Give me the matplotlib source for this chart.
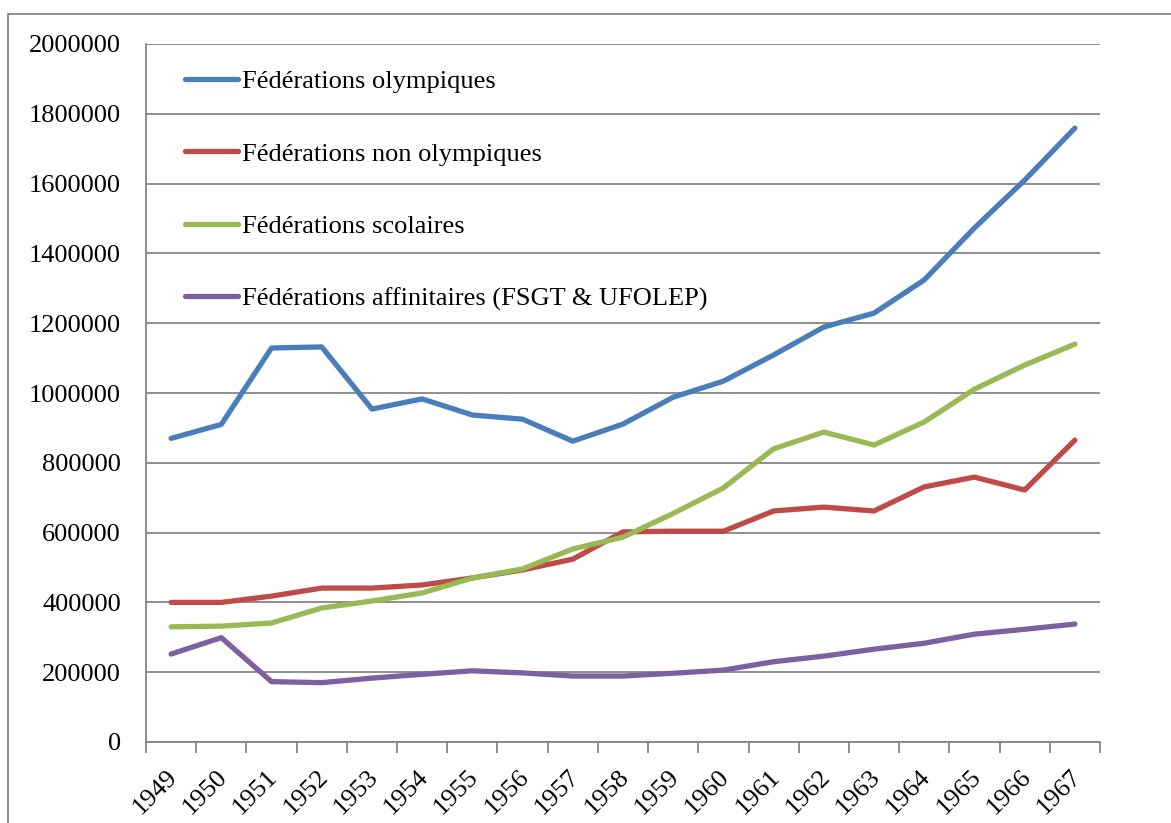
import matplotlib
matplotlib.use("Agg")
import matplotlib.pyplot as plt
from matplotlib.patches import Rectangle
import matplotlib.transforms as mtransforms
import numpy as np

years = ["1949", "1950", "1951", "1952", "1953", "1954", "1955", "1956", "1957", "1958",
         "1959", "1960", "1961", "1962", "1963", "1964", "1965", "1966", "1967"]

olympiques = [870000, 910000, 1129000, 1132000, 954000, 983000, 937000, 925000, 862000, 911000,
              988000, 1034000, 1109000, 1189000, 1229000, 1324000, 1473000, 1610000, 1759000]
non_olympiques = [400000, 400000, 418000, 441000, 441000, 450000, 470000, 493000, 524000, 602000,
                  604000, 604000, 662000, 673000, 662000, 731000, 759000, 722000, 865000]
scolaires = [330000, 332000, 341000, 384000, 404000, 427000, 470000, 496000, 553000, 587000,
             655000, 728000, 840000, 888000, 851000, 917000, 1011000, 1080000, 1140000]
affinitaires = [252000, 299000, 173000, 170000, 183000, 194000, 204000, 198000, 189000, 189000,
                197000, 206000, 230000, 246000, 266000, 283000, 309000, 323000, 338000]

labels = ["Fédérations olympiques", "Fédérations non olympiques",
          "Fédérations scolaires", "Fédérations affinitaires (FSGT & UFOLEP)"]
colors = ["#4A7EBB", "#BE4B48", "#98B954", "#7D60A0"]
yticks = [0, 200000, 400000, 600000, 800000, 1000000, 1200000, 1400000, 1600000, 1800000, 2000000]

plt.rcParams['font.family'] = ['Liberation Serif', 'DejaVu Serif']

fig = plt.figure(figsize=(11.71, 8.23), dpi=100)
fig.patches.append(Rectangle((8 / 1171, -0.1), 1.2, (823 - 14) / 823 + 0.1,
                             transform=fig.transFigure, fill=False,
                             edgecolor="#868686", linewidth=1.3, zorder=0))

ax = fig.add_axes([146 / 1171, (823 - 742) / 823, 954 / 1171, 698 / 823])
x = np.arange(len(years))
for series, lab, col in zip([olympiques, non_olympiques, scolaires, affinitaires], labels, colors):
    ax.plot(x, series, color=col, linewidth=3.8, label=lab, solid_capstyle='round',
            solid_joinstyle='round', zorder=3)

ax.set_xlim(-0.5, len(years) - 0.5)
ax.set_ylim(0, 2000000)
ax.set_yticks(yticks)
ax.set_yticklabels([str(v) for v in yticks], fontsize=19)
ax.tick_params(axis='y', length=0, pad=18)
ax.yaxis.grid(True, color="#868686", linewidth=1.3)
ax.set_axisbelow(True)

ax.set_xticks(np.arange(-0.5, len(years), 1.0))
ax.set_xticklabels([])
ax.set_xticks(x, minor=True)
ax.set_xticklabels(years, minor=True, fontsize=19, rotation=45, ha='right', va='top',
                   rotation_mode='anchor')
ax.tick_params(axis='x', which='major', length=8, width=1.3, color="#868686", direction='out')
ax.tick_params(axis='x', which='minor', length=0, pad=17)
offset = mtransforms.ScaledTranslation(-5 / 100, 0, fig.dpi_scale_trans)
for lbl in ax.get_xticklabels(minor=True):
    lbl.set_transform(lbl.get_transform() + offset)

for s in ['top', 'right']:
    ax.spines[s].set_visible(False)
for s in ['left', 'bottom']:
    ax.spines[s].set_color("#868686")
    ax.spines[s].set_linewidth(1.3)

ax.legend(loc='upper left', bbox_to_anchor=(0.041, 0.963), frameon=False, fontsize=19,
          borderpad=0, borderaxespad=0, handlelength=2.0, handletextpad=0.15,
          labelspacing=1.85)

fig.savefig("out.png", dpi=100)
